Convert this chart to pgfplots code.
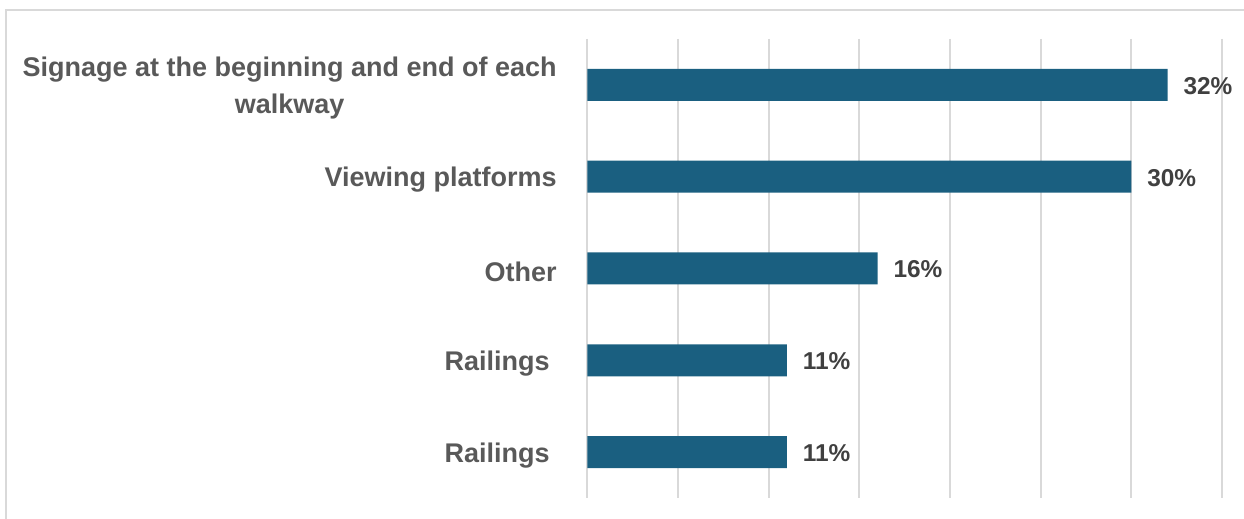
\documentclass[border=0pt]{standalone}
\usepackage{pgfplots}
\pgfplotsset{compat=1.18}
\usepackage{fontspec}
\setmainfont{Liberation Sans}
\definecolor{barblue}{HTML}{1A5F80}
\definecolor{labgray}{HTML}{595959}
\definecolor{valgray}{HTML}{404040}
\definecolor{gridgray}{HTML}{D9D9D9}
\pgfplotstableread{
y val
0 32
1 30
2 16
3 11
4 11
}\datatab
\begin{document}
\begin{tikzpicture}
\useasboundingbox (0,0) rectangle (622pt,259.5pt);
\draw[gridgray, line width=1pt] (3pt,-1pt) -- (3pt,254.5pt) -- (625pt,254.5pt);
\begin{axis}[
  at={(293.75pt,10.5pt)}, anchor=south west,
  scale only axis, width=317.2pt, height=229.5pt,
  xmin=0, xmax=35, ymin=-0.5, ymax=4.5,
  y dir=reverse,
  axis line style={draw=none},
  xtick={0,5,...,35}, xticklabels={},
  xmajorgrids, major grid style={gridgray, line width=1pt},
  major tick length=0pt,
  ytick={0,1,2,3,4},
  yticklabels={{Signage at the beginning and end of each\\walkway},{Viewing platforms},{Other},{Railings\hspace{3.5pt}},{Railings\hspace{3.5pt}}},
  yticklabel style={align=center, inner sep=0pt, xshift=-15.25pt, yshift=-1.5pt, text=labgray, font=\bfseries\fontsize{13.5}{18.5}\selectfont},
  xbar, bar width=16pt,
  nodes near coords={\pgfmathprintnumber[assume math mode=true]{\pgfplotspointmeta}\%},
  point meta=explicit,
  nodes near coords style={anchor=west, xshift=4.5pt, yshift=-0.5pt, text=valgray, font=\bfseries\fontsize{12.2}{14}\selectfont},
  clip=false,
]
\addplot[fill=barblue, draw=none] table[x=val, y=y, meta=val] {\datatab};
\end{axis}
\end{tikzpicture}
\end{document}
